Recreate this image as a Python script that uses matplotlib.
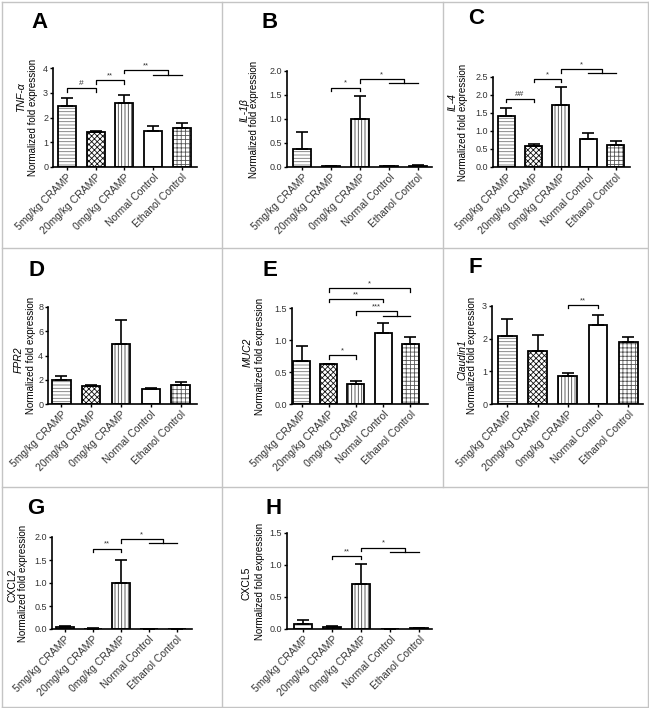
import matplotlib
matplotlib.use('Agg')
import matplotlib.pyplot as plt
from matplotlib.lines import Line2D
import numpy as np

plt.rcParams['font.family'] = ['Liberation Sans', 'DejaVu Sans']
plt.rcParams['hatch.linewidth'] = 0.6

groups = ['5mg/kg CRAMP', '20mg/kg CRAMP', '0mg/kg CRAMP',
          'Normal Control', 'Ethanol Control']

# means and upper error (SEM) per panel
tnf_mean = [2.45, 1.42, 2.60, 1.47, 1.57]
tnf_err = [0.35, 0.04, 0.30, 0.18, 0.22]
il1b_mean = [0.38, 0.02, 1.00, 0.02, 0.03]
il1b_err = [0.34, 0.005, 0.47, 0.005, 0.01]
il4_mean = [1.42, 0.57, 1.72, 0.78, 0.62]
il4_err = [0.23, 0.08, 0.50, 0.17, 0.11]
fpr2_mean = [2.00, 1.45, 4.95, 1.20, 1.55]
fpr2_err = [0.35, 0.15, 1.95, 0.10, 0.25]
muc2_mean = [0.67, 0.62, 0.32, 1.11, 0.94]
muc2_err = [0.23, 0.01, 0.04, 0.16, 0.11]
cldn_mean = [2.07, 1.62, 0.86, 2.43, 1.90]
cldn_err = [0.53, 0.50, 0.08, 0.30, 0.15]
cxcl2_mean = [0.05, 0.01, 1.01, 0.005, 0.005]
cxcl2_err = [0.01, 0.003, 0.49, 0.002, 0.002]
cxcl5_mean = [0.08, 0.035, 0.70, 0.005, 0.008]
cxcl5_err = [0.06, 0.015, 0.31, 0.002, 0.002]

# significance: (bar_from, bar_to, y, label, second_line_y or None)
sig_a = [(0, 1, 3.19, '#', None), (1, 2, 3.5, '**', None), (2, 3.5, 3.92, '**', 3.72)]
sig_b = [(1, 2, 1.65, '*', None), (2, 3.5, 1.83, '*', 1.75)]
sig_c = [(0, 1, 1.88, '##', None), (1, 2, 2.44, '*', None), (2, 3.5, 2.71, '*', 2.62)]
sig_d = []
sig_e = [(1, 2, 0.76, '*', None), (2, 3.5, 1.45, '***', 1.38),
         (1, 3, 1.64, '**', None), (1, 4, 1.81, '*', None)]
sig_f = [(2, 3, 3.03, '**', None)]
sig_g = [(1, 2, 1.75, '**', None), (2, 3.5, 1.95, '*', 1.86)]
sig_h = [(1, 2, 1.14, '**', None), (2, 3.5, 1.27, '*', 1.21)]

W, H = 649, 708
fig = plt.figure(figsize=(W / 100, H / 100), dpi=100)

hatches = ['-----', 'xxxxxx', '|||||', '', '++++']
hatch_cols = ['#777777', '#111111', '#444444', 'white', '#555555']


def px_axes(l, t, r, b):
    return fig.add_axes([l / W, 1 - b / H, (r - l) / W, (b - t) / H])


def draw_panel(rect, letter, letter_xy, gene, gene_italic, gene_xy, norm_x,
               mean, err, ymax, yticks, fmt, xl, sig):
    ax = px_axes(*rect)
    x = np.arange(len(mean))
    ax.bar(x, mean, width=0.62, color='white', edgecolor=hatch_cols,
           hatch=hatches, linewidth=0, zorder=2)
    ax.bar(x, mean, width=0.62, fill=False, edgecolor='black',
           linewidth=1.3, zorder=3)
    ax.errorbar(x, mean, yerr=[np.zeros(len(err)), err], fmt='none',
                ecolor='black', elinewidth=1.2, capsize=4, capthick=1.2,
                zorder=4)
    ax.set_ylim(0, ymax)
    ax.set_xlim(xl, xl + 5.0)
    ax.set_yticks(yticks)
    ax.set_yticklabels([fmt.format(v) for v in yticks], fontsize=6.5,
                       color='#333333')
    ax.set_xticks(x)
    ax.set_xticklabels(groups, rotation=45, ha='right',
                       rotation_mode='anchor', fontsize=7.5, color='#333333')
    for s in ['top', 'right']:
        ax.spines[s].set_visible(False)
    for s in ['left', 'bottom']:
        ax.spines[s].set_linewidth(1.2)
    ax.tick_params(direction='out', length=2.5, width=1, pad=1)

    rng = ymax
    for a, b, y, lab, y2 in sig:
        d = 0.035 * rng
        ax.plot([a, a, b, b], [y - d, y, y, (y2 if y2 else y - d)],
                color='black', lw=0.9, clip_on=False, zorder=5)
        if y2:
            ax.plot([3, 4], [y2, y2], color='black', lw=0.9, clip_on=False,
                    zorder=5)
        ax.text((a + b) / 2, y + 0.01 * rng, lab, ha='center', va='bottom',
                fontsize=6 if '#' in lab else 5.5, color='#333333')

    fig.text(letter_xy[0] / W, 1 - letter_xy[1] / H, letter, fontsize=16,
             fontweight='bold', ha='center', va='center')
    fig.text(gene_xy[0] / W, 1 - gene_xy[1] / H, gene, fontsize=7.5,
             style='italic' if gene_italic else 'normal', rotation=90,
             ha='center', va='center')
    fig.text(norm_x / W, 1 - (rect[1] + rect[3]) / 2 / H,
             'Normalized fold expression', fontsize=7, rotation=90,
             ha='center', va='center')
    return ax


draw_panel((53, 68, 197, 167), 'A', (40, 22), 'TNF-\u03b1', True, (21, 97), 33,
           tnf_mean, tnf_err, 4, [0, 1, 2, 3, 4], '{:g}', -0.48, sig_a)
draw_panel((287, 71, 432, 167), 'B', (270, 22), 'IL-1\u03b2', True, (245, 110), 254,
           il1b_mean, il1b_err, 2.0, [0, 0.5, 1.0, 1.5, 2.0], '{:.1f}', -0.52, sig_b)
draw_panel((493, 77, 630, 167), 'C', (476, 18), 'IL-4', True, (453, 102), 463,
           il4_mean, il4_err, 2.5, [0, 0.5, 1.0, 1.5, 2.0, 2.5], '{:.1f}', -0.48, sig_c)
draw_panel((48, 307, 197, 404), 'D', (36, 270), 'FPR2', True, (19, 360), 31,
           fpr2_mean, fpr2_err, 8, [0, 2, 4, 6, 8], '{:g}', -0.45, sig_d)
draw_panel((292, 308, 428, 404), 'E', (270, 270), 'MUC2', True, (248, 352), 260,
           muc2_mean, muc2_err, 1.5, [0, 0.5, 1.0, 1.5], '{:.1f}', -0.35, sig_e)
draw_panel((492, 306, 643, 404), 'F', (475, 268), 'Claudin1', True, (462, 360), 472,
           cldn_mean, cldn_err, 3, [0, 1, 2, 3], '{:g}', -0.51, sig_f)
draw_panel((52, 537, 192, 629), 'G', (36, 509), 'CXCL2', False, (12, 585), 23,
           cxcl2_mean, cxcl2_err, 2.0, [0, 0.5, 1.0, 1.5, 2.0], '{:.1f}', -0.46, sig_g)
draw_panel((287, 533, 432, 629), 'H', (274, 509), 'CXCL5', False, (247, 583), 260,
           cxcl5_mean, cxcl5_err, 1.5, [0, 0.5, 1.0, 1.5], '{:.1f}', -0.56, sig_h)

# panel borders
gc = '#c4c4c4'


def hline(y, x0, x1):
    fig.add_artist(Line2D([x0 / W, x1 / W], [1 - y / H, 1 - y / H], color=gc, lw=1))


def vline(x, y0, y1):
    fig.add_artist(Line2D([x / W, x / W], [1 - y0 / H, 1 - y1 / H], color=gc, lw=1))


hline(1.5, 1.5, 648)
hline(248, 1.5, 648)
hline(487, 1.5, 648)
hline(707, 1.5, 648)
vline(1.5, 1.5, 707)
vline(648, 1.5, 707)
vline(222, 1.5, 707)
vline(443, 1.5, 487)

fig.savefig('out.png', dpi=100)
